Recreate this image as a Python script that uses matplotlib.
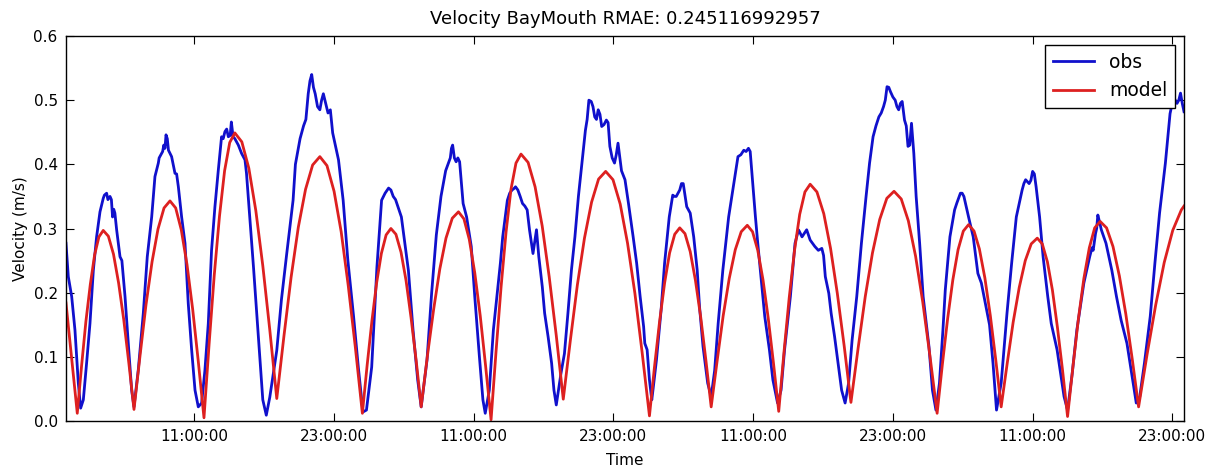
import numpy as np
import pandas as pd
import matplotlib
matplotlib.use('Agg')
import matplotlib.pyplot as plt
import matplotlib.dates as mdates

# hours since start of record
obs_hours = [0.0, 0.2, 0.49, 0.77, 1.06, 1.26, 1.49, 1.77, 2.06, 2.35, 2.63, 2.92, 3.2, 3.49, 3.78, 4.0, 4.2, 4.35, 4.64, 4.8,
             5.07, 5.35, 5.64, 5.84, 6.21, 6.64, 6.98, 7.36, 7.64, 7.93, 8.21, 8.4, 8.59, 8.8, 9.07, 9.36, 9.65, 9.93, 10.22, 10.5,
             10.79, 11.08, 11.36, 11.65, 11.93, 12.22, 12.5, 12.79, 13.08, 13.36, 13.65, 13.94, 14.2, 14.35, 14.65, 15.08, 15.37, 15.5, 16.1, 16.5,
             16.9, 17.2, 17.5, 18.1, 18.5, 18.95, 19.5, 19.9, 20.4, 20.8, 21.1, 21.4, 21.8, 22.1, 22.7, 22.9, 23.4, 23.8, 24.2, 24.7,
             25.1, 25.5, 25.8, 26.25, 26.7, 27.1, 27.7, 28.1, 28.5, 28.8, 29.4, 29.8, 30.2, 30.5, 31.0, 31.4, 31.8, 32.2, 32.6, 33.0,
             33.2, 33.5, 33.8, 34.1, 34.4, 34.8, 35.1, 35.5, 35.8, 36.0, 36.35, 36.7, 37.0, 37.3, 37.5, 37.9, 38.3, 38.6, 38.8, 39.2,
             39.6, 39.8, 40.1, 40.4, 40.6, 40.9, 41.1, 41.4, 41.7, 41.9, 42.1, 42.5, 42.8, 43.1, 43.4, 43.7, 44.0, 44.3, 44.6, 44.9,
             45.1, 45.4, 45.7, 46.0, 46.4, 46.7, 47.1, 47.4, 47.7, 48.0, 48.3, 48.7, 49.0, 49.3, 49.6, 49.7, 49.9, 50.1, 50.3, 50.4,
             50.7, 51.1, 51.4, 51.8, 52.1, 52.4, 52.7, 53.0, 53.3, 53.6, 53.9, 54.2, 54.4, 54.7, 55.1, 55.4, 55.7, 56.0, 56.4, 56.9,
             57.3, 57.7, 58.2, 58.6, 58.9, 59.2, 59.4, 59.7, 60.0, 60.4, 60.7, 61.1, 61.4, 61.7, 62.2, 62.6, 62.9, 63.2, 63.6, 63.9,
             64.3, 64.9, 65.2, 65.5, 65.7, 66.0, 66.3, 66.6, 66.9, 67.2, 67.5, 67.9, 68.3, 68.7, 69.0, 69.3, 69.8, 70.2, 70.5, 70.8,
             71.2, 71.5, 71.8, 72.0, 72.3, 72.6, 72.8, 73.0, 73.3, 73.6, 74.1, 74.4, 74.7, 75.0, 75.3, 75.5, 75.9, 76.3, 76.8, 77.1,
             77.5, 77.9, 78.3, 78.6, 79.1, 79.3, 79.6, 79.9, 80.3, 80.8, 81.2, 81.6, 82.1, 82.4, 82.7, 83.0, 83.3, 83.6, 83.9, 84.3,
             84.6, 85.1, 85.4, 85.7, 86.0, 86.4, 86.8, 87.4, 87.9, 88.2, 88.4, 88.6, 88.9, 89.3, 89.8, 90.2, 90.6, 91.1, 91.5, 91.9,
             92.2, 92.6, 93.1, 93.5, 93.9, 94.4, 94.8, 95.1, 95.4, 95.7, 96.0]
obs_vel = [0.277, 0.225, 0.194, 0.142, 0.059, 0.020, 0.033, 0.090, 0.152, 0.235, 0.287, 0.326, 0.347, 0.355, 0.350, 0.318, 0.324, 0.298, 0.256, 0.250,
           0.194, 0.121, 0.048, 0.022, 0.080, 0.168, 0.256, 0.318, 0.381, 0.402, 0.417, 0.430, 0.446, 0.422, 0.412, 0.386, 0.365, 0.318, 0.277, 0.183,
           0.111, 0.048, 0.022, 0.028, 0.079, 0.152, 0.266, 0.334, 0.391, 0.443, 0.451, 0.443, 0.466, 0.443, 0.435, 0.417, 0.407, 0.386, 0.240, 0.137,
           0.033, 0.009, 0.037, 0.110, 0.189, 0.260, 0.344, 0.420, 0.460, 0.510, 0.540, 0.510, 0.485, 0.510, 0.485, 0.449, 0.407, 0.344, 0.251, 0.162,
           0.084, 0.014, 0.017, 0.084, 0.240, 0.344, 0.363, 0.350, 0.334, 0.318, 0.235, 0.142, 0.064, 0.022, 0.095, 0.200, 0.290, 0.350, 0.390, 0.410,
           0.430, 0.404, 0.404, 0.339, 0.318, 0.272, 0.194, 0.100, 0.033, 0.012, 0.048, 0.142, 0.194, 0.246, 0.287, 0.344, 0.360, 0.365, 0.360, 0.339,
           0.329, 0.298, 0.261, 0.298, 0.256, 0.209, 0.168, 0.131, 0.090, 0.048, 0.025, 0.074, 0.105, 0.168, 0.235, 0.287, 0.350, 0.402, 0.453, 0.500,
           0.498, 0.474, 0.485, 0.459, 0.469, 0.428, 0.402, 0.433, 0.390, 0.376, 0.339, 0.287, 0.246, 0.194, 0.147, 0.121, 0.111, 0.064, 0.033, 0.048,
           0.095, 0.173, 0.246, 0.318, 0.352, 0.350, 0.360, 0.370, 0.334, 0.324, 0.287, 0.235, 0.178, 0.116, 0.059, 0.038, 0.079, 0.152, 0.235, 0.318,
           0.365, 0.412, 0.422, 0.425, 0.386, 0.318, 0.277, 0.220, 0.163, 0.111, 0.064, 0.028, 0.048, 0.111, 0.194, 0.277, 0.298, 0.287, 0.298, 0.282,
           0.272, 0.269, 0.225, 0.199, 0.168, 0.131, 0.090, 0.048, 0.028, 0.059, 0.126, 0.194, 0.277, 0.350, 0.402, 0.443, 0.474, 0.490, 0.521, 0.513,
           0.500, 0.485, 0.498, 0.469, 0.428, 0.464, 0.417, 0.350, 0.277, 0.194, 0.116, 0.048, 0.017, 0.059, 0.142, 0.204, 0.287, 0.329, 0.355, 0.350,
           0.318, 0.287, 0.230, 0.215, 0.168, 0.150, 0.090, 0.017, 0.059, 0.168, 0.246, 0.318, 0.360, 0.376, 0.370, 0.389, 0.365, 0.318, 0.256, 0.194,
           0.152, 0.111, 0.074, 0.038, 0.017, 0.074, 0.142, 0.215, 0.256, 0.266, 0.292, 0.321, 0.298, 0.277, 0.235, 0.194, 0.157, 0.121, 0.074, 0.028,
           0.038, 0.090, 0.163, 0.246, 0.324, 0.402, 0.479, 0.505, 0.495, 0.511, 0.482]

# extra small wiggles of the observed record near the flood/ebb peaks
obs_extra_hours = [3.3, 3.6, 3.9, 4.1, 8.0, 8.3, 8.5, 8.7, 9.2, 9.5, 13.5, 13.8, 14.1, 14.5, 14.8,
                   19.7, 20.1, 20.6, 20.95, 21.25, 21.6, 21.95, 22.3, 22.5, 27.4, 27.9, 28.3,
                   32.4, 33.1, 33.35, 33.65, 38.1, 38.45, 39.0, 39.4,
                   44.75, 45.25, 45.55, 45.85, 46.2, 46.55, 46.9, 47.25, 52.25, 52.55, 52.85,
                   57.95, 58.4, 58.75, 64.6, 65.05,
                   69.55, 70.0, 70.35, 70.65, 71.0, 71.35, 71.65, 72.15, 72.45,
                   76.5, 76.95, 82.25, 82.85, 83.15, 88.1, 88.5, 88.75, 95.25, 95.55, 95.85]
obs_extra_vel = [0.352, 0.345, 0.345, 0.330, 0.410, 0.420, 0.425, 0.440, 0.400, 0.385, 0.440, 0.455, 0.445, 0.440, 0.430,
                 0.400, 0.440, 0.470, 0.530, 0.520, 0.490, 0.500, 0.495, 0.480, 0.355, 0.360, 0.345,
                 0.370, 0.425, 0.410, 0.410, 0.355, 0.362, 0.350, 0.335,
                 0.470, 0.490, 0.470, 0.478, 0.462, 0.465, 0.410, 0.415, 0.350, 0.355, 0.370,
                 0.415, 0.420, 0.420, 0.266, 0.258,
                 0.460, 0.480, 0.500, 0.520, 0.505, 0.490, 0.495, 0.460, 0.430,
                 0.340, 0.355, 0.370, 0.375, 0.385, 0.270, 0.300, 0.310, 0.500, 0.500, 0.495]

model_hours = [0.0, 0.5, 0.97, 1.34, 1.71, 2.09, 2.46, 2.83, 3.2, 3.64, 4.08, 4.52, 4.96, 5.40, 5.84,
               6.36, 6.87, 7.39, 7.90, 8.42, 8.93, 9.42, 9.90, 10.39, 10.88, 11.36, 11.85,
               12.29, 12.73, 13.18, 13.62, 14.06, 14.5, 15.1, 15.7, 16.3, 16.9, 17.5, 18.1,
               18.72, 19.33, 19.95, 20.57, 21.18, 21.8, 22.41, 23.02, 23.63, 24.23, 24.84, 25.45,
               25.86, 26.27, 26.68, 27.08, 27.49, 27.9, 28.33, 28.77, 29.2, 29.63, 30.07, 30.5,
               31.03, 31.57, 32.1, 32.63, 33.17, 33.7, 34.17, 34.63, 35.1, 35.57, 36.03, 36.5,
               36.93, 37.36, 37.79, 38.21, 38.64, 39.07, 39.68, 40.28, 40.89, 41.49, 42.1, 42.7,
               43.31, 43.91, 44.52, 45.13, 45.73, 46.34, 46.97, 47.59, 48.22, 48.85, 49.47, 50.1,
               50.53, 50.97, 51.4, 51.83, 52.27, 52.7, 53.15, 53.6, 54.05, 54.5, 54.95, 55.4,
               55.92, 56.43, 56.95, 57.47, 57.98, 58.5, 58.95, 59.4, 59.85, 60.3, 60.75, 61.2,
               61.65, 62.1, 62.55, 63.0, 63.45, 63.9, 64.48, 65.07, 65.65, 66.23, 66.82, 67.4,
               68.02, 68.63, 69.25, 69.87, 70.48, 71.1, 71.72, 72.33, 72.95, 73.57, 74.18, 74.8,
               75.25, 75.7, 76.15, 76.6, 77.05, 77.5, 77.97, 78.43, 78.9, 79.37, 79.83, 80.3,
               80.82, 81.33, 81.85, 82.37, 82.88, 83.4, 83.83, 84.27, 84.7, 85.13, 85.57, 86.0,
               86.47, 86.93, 87.4, 87.87, 88.33, 88.8, 89.35, 89.9, 90.45, 91.0, 91.55, 92.1,
               92.83, 93.57, 94.3, 95.03, 95.77, 96.0]
model_vel = [0.184, 0.095, 0.012, 0.086, 0.155, 0.213, 0.259, 0.287, 0.297, 0.288, 0.260, 0.215, 0.158, 0.090, 0.018,
             0.102, 0.181, 0.248, 0.299, 0.332, 0.343, 0.332, 0.298, 0.244, 0.174, 0.093, 0.005,
             0.120, 0.227, 0.319, 0.390, 0.434, 0.449, 0.435, 0.394, 0.328, 0.242, 0.142, 0.035,
             0.133, 0.224, 0.302, 0.361, 0.399, 0.412, 0.398, 0.358, 0.295, 0.212, 0.116, 0.012,
             0.087, 0.156, 0.216, 0.261, 0.290, 0.300, 0.291, 0.263, 0.219, 0.161, 0.094, 0.022,
             0.101, 0.174, 0.237, 0.285, 0.316, 0.326, 0.315, 0.283, 0.231, 0.164, 0.086, 0.002,
             0.109, 0.209, 0.295, 0.361, 0.402, 0.416, 0.403, 0.365, 0.304, 0.225, 0.133, 0.034,
             0.126, 0.212, 0.285, 0.341, 0.377, 0.389, 0.376, 0.338, 0.277, 0.199, 0.107, 0.008,
             0.084, 0.155, 0.215, 0.262, 0.291, 0.301, 0.292, 0.264, 0.219, 0.162, 0.094, 0.022,
             0.095, 0.164, 0.222, 0.267, 0.295, 0.305, 0.295, 0.266, 0.220, 0.160, 0.090, 0.015,
             0.107, 0.192, 0.265, 0.322, 0.357, 0.369, 0.357, 0.323, 0.269, 0.199, 0.117, 0.029,
             0.114, 0.194, 0.262, 0.314, 0.347, 0.358, 0.346, 0.312, 0.257, 0.185, 0.102, 0.012,
             0.088, 0.159, 0.220, 0.267, 0.296, 0.306, 0.296, 0.268, 0.223, 0.164, 0.096, 0.022,
             0.090, 0.154, 0.208, 0.250, 0.276, 0.285, 0.276, 0.248, 0.204, 0.146, 0.079, 0.007,
             0.086, 0.159, 0.222, 0.270, 0.301, 0.311, 0.301, 0.272, 0.226, 0.167, 0.097, 0.022,
             0.104, 0.181, 0.247, 0.297, 0.329, 0.335]

title = 'Velocity BayMouth RMAE: 0.245116992957'
start = pd.Timestamp('2016-03-01 00:00:00')

# merge the extra observed samples into the record, in time order
oh = np.array(obs_hours + obs_extra_hours)
ov = np.array(obs_vel + obs_extra_vel)
order = np.argsort(oh, kind='stable')
oh, ov = oh[order], ov[order]

obs_t = start + pd.to_timedelta(oh, unit='h')
model_t = start + pd.to_timedelta(model_hours, unit='h')

plt.rcParams['font.family'] = 'DejaVu Sans'
fig = plt.figure(figsize=(12.15, 4.66), dpi=100)
ax = fig.add_axes([0.0543, 0.0966, 0.9202, 0.8261])

ax.plot(obs_t, ov, color='#1010cc', lw=2, label='obs')
ax.plot(model_t, model_vel, color='#dd2020', lw=2, label='model')

ax.set_xlim(start, start + pd.Timedelta(hours=96))
ax.set_ylim(0, 0.6)
ax.set_yticks([0.0, 0.1, 0.2, 0.3, 0.4, 0.5, 0.6])
ax.yaxis.set_major_formatter(matplotlib.ticker.FormatStrFormatter('%.1f'))
ax.xaxis.set_major_locator(mdates.HourLocator(byhour=[11, 23]))
ax.xaxis.set_major_formatter(mdates.DateFormatter('%H:%M:%S'))

ax.tick_params(direction='in', top=True, right=True, length=6, width=0.8, labelsize=11, pad=6)
for s in ax.spines.values():
    s.set_linewidth(1.0)

ax.set_title(title, fontsize=13, pad=9)
ax.set_xlabel('Time', fontsize=11, labelpad=6)
ax.set_ylabel('Velocity (m/s)', fontsize=11, labelpad=4)

leg = ax.legend(loc='upper right', fontsize=13.5, fancybox=False, framealpha=1,
                edgecolor='black', borderaxespad=0.5, handlelength=2.2)
leg.get_frame().set_linewidth(1.0)

fig.savefig('out.png', dpi=100)
